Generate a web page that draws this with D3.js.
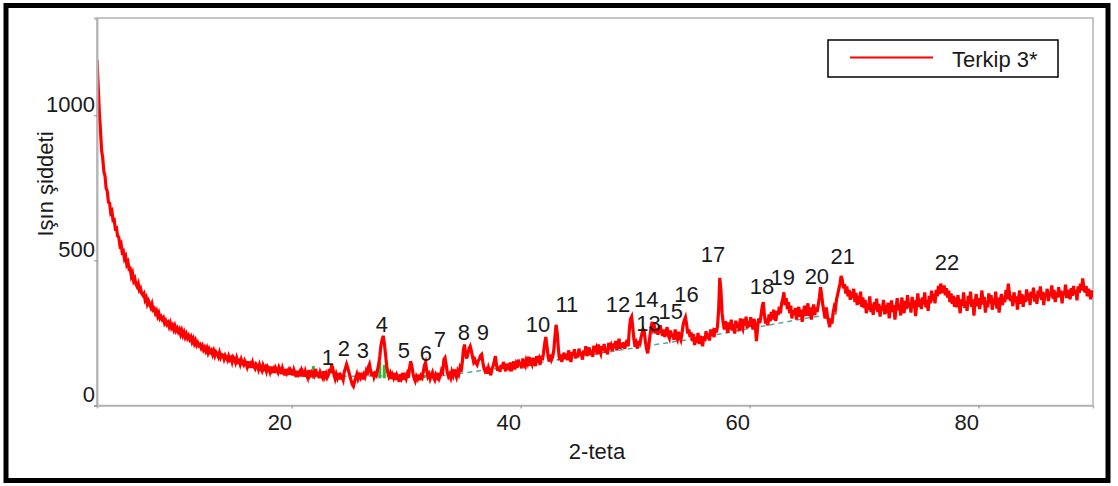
<!DOCTYPE html>
<html>
<head>
<meta charset="utf-8">
<script src="https://cdn.jsdelivr.net/npm/d3@7"></script>
<style>
  body { margin: 0; background: #fff; }
  svg { display: block; }
  text { font-family: "Liberation Sans", Arial, Helvetica, sans-serif; fill: #1a1a1a; }
</style>
</head>
<body>
<svg id="chart" width="1118" height="486"></svg>
<script>
// Scan grid (2-theta, degrees)
const twoThetaStart = 3;
const twoThetaStep = 0.1;

// Measured intensity, one value per scan step; each row covers one degree (3.0 .. 90.0)
const intensity = [
  1190, 1105, 1012, 950, 880, 852, 806, 790, 748, 738,
  700, 698, 664, 670, 638, 640, 610, 612, 584, 580,
  552, 558, 528, 532, 506, 514, 486, 494, 470, 472,
  446, 456, 430, 438, 418, 410, 420, 398, 404, 386,
  380, 386, 364, 372, 350, 360, 348, 338, 350, 330,
  334, 318, 326, 308, 318, 300, 306, 296, 302, 284,
  292, 280, 286, 272, 284, 268, 276, 262, 274, 258,
  266, 254, 262, 246, 258, 242, 252, 236, 246, 232,
  240, 228, 236, 220, 230, 214, 224, 208, 216, 206,
  210, 198, 206, 192, 200, 188, 198, 182, 194, 184,
  190, 176, 188, 172, 184, 178, 168, 182, 166, 176,
  174, 160, 172, 164, 156, 170, 158, 164, 150, 166,
  160, 148, 164, 150, 154, 142, 158, 146, 140, 154,
  146, 134, 152, 138, 144, 130, 148, 136, 128, 142,
  136, 124, 140, 128, 120, 138, 126, 132, 118, 134,
  128, 116, 134, 120, 126, 112, 130, 122, 114, 132,
  124, 108, 128, 116, 104, 126, 112, 120, 106, 124,
  118, 104, 122, 110, 98, 120, 108, 116, 100, 122,
  114, 100, 118, 106, 96, 122, 104, 112, 98, 120,
  108, 126, 100, 116, 94, 114, 104, 96, 118, 100,
  110, 96, 104, 126, 112, 140, 128, 106, 92, 108,
  96, 112, 90, 104, 98, 88, 116, 128, 142, 130,
  116, 100, 86, 72, 66, 82, 96, 108, 92, 104,
  96, 112, 90, 106, 98, 116, 104, 132, 142, 120,
  102, 116, 98, 110, 104, 122, 140, 168, 206, 226,
  240, 214, 178, 138, 114, 100, 110, 92, 106, 96,
  112, 88, 104, 94, 82, 108, 96, 112, 90, 102,
  92, 108, 96, 128, 152, 136, 110, 94, 84, 100,
  92, 106, 88, 102, 96, 116, 138, 148, 120, 100,
  108, 92, 104, 114, 96, 88, 106, 98, 112, 94,
  104, 122, 116, 158, 164, 140, 112, 100, 108, 96,
  116, 104, 124, 110, 98, 118, 108, 128, 116, 146,
  190, 210, 176, 162, 180, 196, 204, 188, 168, 150,
  158, 146, 140, 154, 160, 172, 176, 150, 128, 118,
  124, 110, 130, 118, 104, 126, 136, 152, 170, 138,
  120, 134, 116, 140, 126, 150, 132, 118, 144, 130,
  126, 148, 118, 138, 152, 124, 142, 130, 158, 136,
  150, 128, 162, 140, 134, 156, 146, 168, 138, 152,
  142, 164, 150, 136, 170, 148, 160, 140, 172, 156,
  180, 212, 236, 206, 170, 152, 176, 158, 168, 190,
  236, 278, 250, 196, 156, 176, 150, 168, 182, 160,
  178, 156, 190, 166, 150, 184, 172, 194, 162, 180,
  166, 196, 172, 184, 158, 190, 176, 204, 170, 186,
  200, 174, 190, 168, 206, 184, 196, 176, 210, 188,
  178, 204, 190, 212, 182, 198, 176, 216, 194, 206,
  188, 214, 198, 222, 190, 208, 230, 196, 214, 200,
  218, 196, 212, 226, 204, 262, 298, 306, 268, 228,
  202, 214, 196, 222, 206, 230, 248, 262, 254, 222,
  196, 180, 206, 240, 270, 288, 262, 270, 248, 266,
  244, 262, 276, 254, 240, 262, 236, 254, 270, 242,
  232, 258, 236, 248, 226, 262, 238, 228, 254, 236,
  226, 250, 278, 294, 304, 280, 248, 262, 236, 252,
  222, 246, 208, 236, 216, 250, 212, 240, 226, 204,
  238, 222, 256, 230, 248, 224, 262, 240, 252, 236,
  266, 252, 272, 330, 440, 396, 318, 284, 262, 290,
  272, 250, 286, 262, 296, 258, 280, 248, 292, 268,
  286, 256, 300, 270, 262, 298, 276, 306, 266, 290,
  272, 304, 280, 262, 298, 276, 222, 268, 300, 284,
  310, 340, 356, 310, 282, 300, 276, 314, 290, 322,
  296, 330, 304, 292, 326, 312, 340, 318, 352, 366,
  390, 346, 370, 332, 356, 318, 344, 300, 328, 312,
  336, 296, 322, 340, 306, 330, 288, 318, 344, 310,
  326, 352, 308, 338, 296, 330, 348, 312, 338, 322,
  346, 372, 408, 380, 346, 324, 300, 338, 310, 290,
  270, 300, 282, 320, 340, 332, 366, 384, 402, 420,
  446, 432, 404, 418, 386, 410, 376, 398, 364, 392,
  370, 402, 356, 388, 346, 378, 350, 392, 340, 372,
  336, 364, 318, 352, 330, 376, 322, 348, 312, 356,
  330, 368, 322, 350, 306, 342, 328, 364, 314, 346,
  318, 354, 300, 340, 362, 322, 346, 296, 336, 370,
  328, 352, 310, 372, 340, 318, 360, 332, 380, 338,
  354, 320, 374, 336, 362, 308, 348, 386, 340, 366,
  332, 372, 348, 390, 338, 364, 326, 378, 352, 396,
  360, 384, 352, 398, 376, 412, 384, 420, 400, 388,
  414, 380, 404, 372, 396, 356, 386, 350, 378, 340,
  372, 338, 380, 352, 318, 366, 344, 390, 336, 360,
  326, 378, 350, 392, 340, 366, 310, 356, 384, 342,
  370, 332, 362, 396, 348, 374, 320, 360, 338, 386,
  352, 380, 330, 368, 346, 392, 334, 372, 320, 358,
  384, 346, 374, 356, 398, 366, 420, 388, 360, 378,
  342, 390, 356, 376, 330, 372, 396, 350, 384, 340,
  378, 356, 400, 362, 388, 346, 392, 370, 406, 358,
  384, 350, 396, 372, 410, 364, 392, 346, 388, 374,
  402, 360, 392, 376, 414, 368, 398, 356, 390, 372,
  408, 374, 396, 352, 392, 380, 416, 370, 398, 384,
  366, 404, 378, 412, 384, 398, 362, 410, 388, 420,
  396, 438, 404, 390, 412, 376, 402, 388, 366, 396,
  372
];

// Fitted background under the peaks (2-theta, intensity)
const baselineTheta = [22.0, 33.2, 37.3, 42.0, 54.8, 65.3, 67.6];
const baselineValue = [100, 103, 124, 150, 228, 303, 316];

// Integrated peak areas shown as filled strips (2-theta, top intensity)
const areaTheta = [21.9, 23.9, 27.7, 28.1, 30.1, 31.6];
const areaTop = [136, 110, 150, 140, 106, 104];

// Numbered peak annotations (label, 2-theta, intensity)
const peakLabels = ["1","2","3","4","5","6","7","8","9","10","11","12","13","14","15","16","17","18","19","20","21","22"];
const peakTheta = [23.17, 24.57, 26.23, 27.89, 29.81, 31.73, 32.96, 35.05, 36.71, 41.52, 44.05, 48.50, 51.17, 50.98, 53.12, 54.50, 56.80, 61.08, 62.91, 65.88, 68.15, 77.24];
const peakLevel = [138, 169, 162, 252, 162, 155, 200, 224, 224, 252, 321, 321, 257, 341, 297, 356, 493, 383, 414, 417, 486, 466];

// Axes
const xTicks = [20, 40, 60, 80];
const yTicks = [0, 500, 1000];
const xDomain = [3, 90];
const yDomain = [0, 1335];
const seriesName = "Terkip 3*";
const xTitle = "2-teta";
const yTitle = "Işın şiddeti";

const svg = d3.select("#chart");
const plot = { left: 97, right: 1093, top: 18, bottom: 405.5 };

const x = d3.scaleLinear().domain(xDomain).range([plot.left, plot.right]);
const y = d3.scaleLinear().domain(yDomain).range([plot.bottom, plot.top]);

const series = intensity.map((v, i) => ({ t: twoThetaStart + i * twoThetaStep, v }));

// Outer frame
svg.append("rect")
  .attr("x", 6).attr("y", 5.5).attr("width", 1102).attr("height", 475)
  .attr("fill", "none").attr("stroke", "#000").attr("stroke-width", 5);

// Plot box
svg.append("rect")
  .attr("x", plot.left).attr("y", plot.top)
  .attr("width", plot.right - plot.left).attr("height", plot.bottom - plot.top)
  .attr("fill", "none").attr("stroke", "#b4b4b4").attr("stroke-width", 1.5);

svg.append("clipPath").attr("id", "plotClip")
  .append("rect").attr("x", plot.left).attr("y", plot.top)
  .attr("width", plot.right - plot.left).attr("height", plot.bottom - plot.top);

const g = svg.append("g").attr("clip-path", "url(#plotClip)");

// Background fit
g.append("path")
  .datum(baselineTheta.map((t, i) => ({ t, v: baselineValue[i] })))
  .attr("d", d3.line().x(d => x(d.t)).y(d => y(d.v)))
  .attr("fill", "none").attr("stroke", "#5aa6a6").attr("stroke-width", 1.5)
  .attr("stroke-dasharray", "5,4");

// Peak area strips
const baseAt = d3.scaleLinear().domain(baselineTheta).range(baselineValue).clamp(true);
g.selectAll("rect.area")
  .data(areaTheta.map((t, i) => ({ t, top: areaTop[i] })))
  .join("rect").attr("class", "area")
  .attr("x", d => x(d.t) - 1.5).attr("width", 3)
  .attr("y", d => y(d.top))
  .attr("height", d => y(baseAt(d.t) - 8) - y(d.top))
  .attr("fill", "#33b833");

// Diffraction pattern
g.append("path")
  .datum(series)
  .attr("d", d3.line().x(d => x(d.t)).y(d => y(d.v)))
  .attr("fill", "none").attr("stroke", "#ff0000").attr("stroke-width", 3.2)
  .attr("stroke-linejoin", "miter");

// X axis
const xAxis = svg.append("g").attr("transform", `translate(0,${plot.bottom})`)
  .call(d3.axisBottom(x).tickValues(xTicks).tickSize(3).tickFormat(d3.format("d")));
xAxis.select(".domain").attr("stroke", "#b4b4b4").attr("stroke-width", 1.5);
xAxis.selectAll(".tick line").attr("stroke", "#888");
xAxis.selectAll(".tick text")
  .attr("font-size", 22).attr("text-anchor", "end")
  .attr("x", 0).attr("y", 24.5).attr("dy", 0).attr("fill", "#1a1a1a");

// Y axis
const yAxis = svg.append("g").attr("transform", `translate(${plot.left},0)`)
  .call(d3.axisLeft(y).tickValues(yTicks).tickSize(3).tickFormat(d3.format("d")));
yAxis.select(".domain").attr("stroke", "#b4b4b4").attr("stroke-width", 2);
yAxis.selectAll(".tick line").attr("stroke", "#888");
yAxis.selectAll(".tick text")
  .attr("font-size", 22).attr("text-anchor", "end")
  .attr("x", -2).attr("y", -4).attr("dy", 0).attr("fill", "#1a1a1a");

// Axis titles
svg.append("text").attr("x", 597).attr("y", 459)
  .attr("text-anchor", "middle").attr("font-size", 22).text(xTitle);
svg.append("text")
  .attr("transform", "translate(53,184) rotate(-90)")
  .attr("text-anchor", "middle").attr("font-size", 22).text(yTitle);

// Peak numbers
svg.selectAll("text.peak")
  .data(peakLabels.map((s, i) => ({ s, t: peakTheta[i], v: peakLevel[i] })))
  .join("text").attr("class", "peak")
  .attr("x", d => x(d.t)).attr("y", d => y(d.v))
  .attr("text-anchor", "middle").attr("font-size", 22)
  .text(d => d.s);

// Legend
const legend = svg.append("g");
legend.append("rect")
  .attr("x", 828).attr("y", 40).attr("width", 230).attr("height", 37)
  .attr("fill", "#fff").attr("stroke", "#000").attr("stroke-width", 1.5);
legend.append("line")
  .attr("x1", 850).attr("x2", 933).attr("y1", 57.5).attr("y2", 57.5)
  .attr("stroke", "#ff0000").attr("stroke-width", 2);
legend.append("text").attr("x", 952).attr("y", 67)
  .attr("font-size", 22).text(seriesName);
</script>
</body>
</html>
